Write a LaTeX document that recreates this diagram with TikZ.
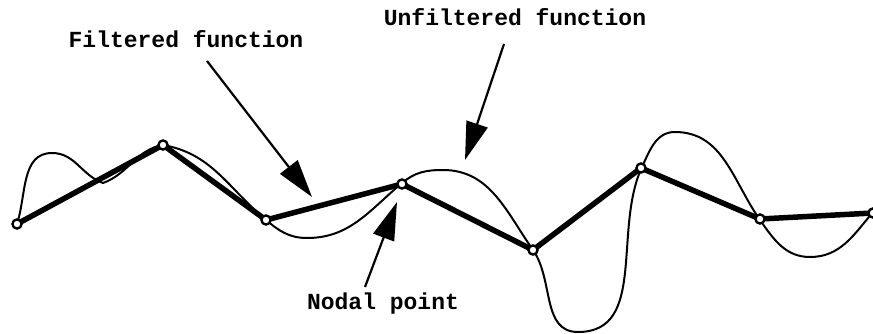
\documentclass[tikz,border=0pt]{standalone}
\usepackage{fontspec}
\setmonofont{Liberation Mono}
\usetikzlibrary{arrows.meta}
\begin{document}
\begin{tikzpicture}[x=1pt,y=-1pt,
  lbl/.style={font=\ttfamily\bfseries\fontsize{23}{23}\selectfont, inner sep=0pt, anchor=base},
  nodal/.style={circle, draw, line width=2.2pt, fill=white, minimum size=9pt, inner sep=0pt},
  filt/.style={line width=5.5pt, line join=round},
  unfilt/.style={line width=2pt},
  ptr/.style={line width=2.2pt, -{Triangle[length=38pt,width=22pt]}}]
\useasboundingbox (0,0) rectangle (873,334);
% unfiltered function
\draw[unfilt] (17,224) to[out=72,in=180] (52,153)
  to[out=0,in=160] (103,183)
  to[out=20,in=190] (163,145)
  to[out=-10,in=140] (266,220)
  to[out=-40,in=180] (307,238)
  to[out=0,in=220] (402,183)
  to[out=40,in=180] (443,170)
  to[out=0,in=125] (533,250)
  to[out=-55,in=180] (578,332)
  to[out=0,in=245] (642,167)
  to[out=65,in=180] (675,132)
  to[out=0,in=125] (760,220)
  to[out=-55,in=180] (810,257)
  to[out=0,in=230] (873,212);
% nodal points
\node[nodal] (n1) at (17,224) {};
\node[nodal] (n2) at (163,145) {};
\node[nodal] (n3) at (266,220) {};
\node[nodal] (n4) at (402,184) {};
\node[nodal] (n5) at (533,250) {};
\node[nodal] (n6) at (641,168) {};
\node[nodal] (n7) at (760,219) {};
\node[nodal] (n8) at (873,213) {};
% filtered function
\draw[filt] (n1.center) -- (n2.center) -- (n3.center) -- (n4.center) -- (n5.center)
  -- (n6.center) -- (n7.center) -- (n8.center);
\foreach \n in {n1,n2,n3,n4,n5,n6,n7,n8} \node[nodal] at (\n) {};
% labels
\node[lbl] (ff) at (186,48) {Filtered function};
\node[lbl] (uf) at (515,26) {Unfiltered function};
\node[lbl] (np) at (383,309) {Nodal point};
% pointers
\coordinate (fftail) at (207,61);
\coordinate (fftip) at (312,197);
\coordinate (uftail) at (504,44);
\coordinate (uftip) at (465,160);
\coordinate (nptail) at (365,287);
\coordinate (nptip) at (397,202);
\draw[ptr] (fftail) -- (fftip);
\draw[ptr] (uftail) -- (uftip);
\draw[ptr] (nptail) -- (nptip);
\end{tikzpicture}
\end{document}
